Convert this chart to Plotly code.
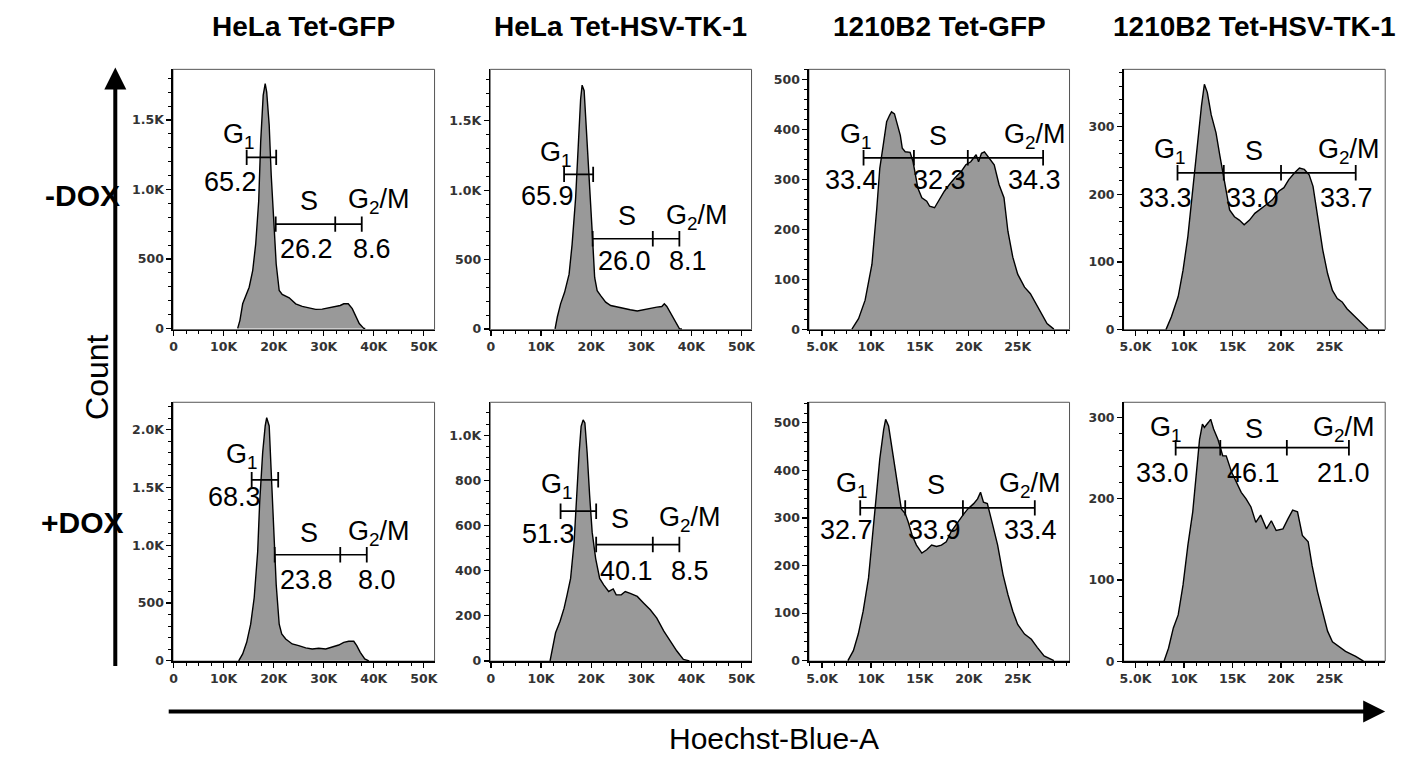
import plotly.graph_objects as go

W, H = 1423, 762

# ---------------- DATA ----------------
col_titles = ["HeLa Tet-GFP", "HeLa Tet-HSV-TK-1", "1210B2 Tet-GFP", "1210B2 Tet-HSV-TK-1"]
row_titles = ["-DOX", "+DOX"]
x_title = "Hoechst-Blue-A"
y_title = "Count"
phase_names = ["G<sub>1</sub>", "S", "G<sub>2</sub>/M"]

# Hoechst intensity in thousands (K), counts per channel
hela_gfp_nodox_x = [12.8, 13.25, 13.8, 14.4, 15.1, 15.8, 16.4, 17.0, 17.4, 17.9, 18.3, 18.6, 19.1, 19.5, 20.1, 20.5,
                    21.1, 21.7, 23.1, 24.4, 25.7, 27.0, 28.4, 29.7, 31.0, 32.3, 33.3, 34.0, 34.9, 35.7, 36.3, 37.1, 38.0, 38.3]
hela_gfp_nodox_y = [0, 58, 177, 237, 296, 415, 606, 915, 1344, 1677, 1761, 1701, 1463, 1106, 749, 463,
                    273, 244, 220, 177, 158, 149, 137, 139, 149, 154, 165, 177, 177, 142, 94, 35, 0, 0]

hela_tk_nodox_x = [12.8, 13.25, 13.9, 14.7, 15.6, 16.2, 16.9, 17.4, 17.9, 18.2, 18.6, 19.0, 19.5, 20.2, 20.7, 21.2,
                   21.9, 22.9, 23.9, 25.2, 26.5, 27.8, 29.2, 30.5, 31.8, 33.1, 34.1, 34.6, 35.1, 35.9, 36.8, 37.6, 38.1]
hela_tk_nodox_y = [0, 86, 181, 264, 395, 610, 943, 1348, 1657, 1757, 1717, 1467, 1110, 705, 371, 276,
                   240, 193, 169, 157, 145, 138, 129, 138, 152, 157, 162, 181, 162, 110, 50, 2, 0]

b2_gfp_nodox_x = [8.05, 8.73, 9.4, 10.1, 10.6, 10.9, 11.3, 11.6, 11.9, 12.1, 12.4, 12.6, 13.0, 13.2, 13.5, 14.0,
                  14.3, 14.8, 15.2, 15.7, 16.0, 16.5, 17.0, 17.5, 18.0, 18.55, 19.2, 19.7, 20.2, 20.75, 21.0,
                  21.3, 21.6, 22.1, 22.6, 23.1, 23.6, 24.0, 24.5, 25.0, 25.7, 26.3, 26.85, 27.4, 28.0, 28.7]
b2_gfp_nodox_y = [0, 21, 58, 130, 243, 322, 375, 415, 428, 435, 431, 418, 388, 362, 355, 354,
                  335, 282, 263, 256, 246, 243, 259, 276, 289, 302, 315, 329, 335, 349, 335,
                  352, 355, 342, 329, 289, 263, 196, 144, 110, 84, 71, 51, 31, 11, 0]

b2_tk_nodox_x = [8.14, 8.7, 9.4, 9.9, 10.4, 10.9, 11.35, 11.8, 12.1, 12.4, 12.8, 13.3, 13.7, 14.0, 14.4, 14.7,
                 15.2, 15.7, 16.2, 16.75, 17.3, 17.8, 18.5, 19.1, 19.8, 20.3, 20.8, 21.4, 21.9, 22.4, 22.9,
                 23.3, 23.75, 24.3, 24.8, 25.3, 25.8, 26.3, 26.8, 27.5, 28.2, 29.0]
b2_tk_nodox_y = [0, 19, 49, 88, 138, 207, 271, 331, 363, 351, 318, 291, 257, 232, 202, 177,
                 167, 162, 155, 162, 172, 177, 185, 192, 205, 210, 222, 232, 239, 237, 229,
                 212, 167, 118, 83, 58, 46, 41, 31, 21, 11, 0]

hela_gfp_dox_x = [13.0, 13.8, 14.6, 15.4, 16.1, 16.8, 17.2, 17.8, 18.3, 18.6, 19.1, 19.5, 20.1, 20.5, 21.1, 21.6,
                  22.4, 23.7, 25.0, 26.4, 27.7, 29.0, 30.4, 31.7, 33.0, 34.0, 35.0, 36.0, 36.6, 37.3, 38.2, 39.0]
hela_gfp_dox_y = [0, 60, 160, 317, 546, 946, 1375, 1804, 2033, 2104, 2033, 1632, 1089, 660, 317, 232,
                  189, 146, 132, 112, 103, 109, 103, 117, 137, 160, 169, 169, 132, 74, 17, 0]

hela_tk_dox_x = [11.8, 12.3, 12.9, 13.8, 14.6, 15.2, 15.9, 16.6, 17.1, 17.6, 18.0, 18.4, 18.75, 19.2, 19.7, 20.2,
                 20.9, 21.7, 22.5, 23.5, 24.4, 25.0, 26.0, 26.8, 27.8, 29.2, 30.5, 31.8, 33.1, 34.5, 35.8, 37.1, 38.4, 39.6]
hela_tk_dox_y = [0, 59, 125, 176, 234, 293, 366, 527, 733, 923, 1040, 1069, 1055, 923, 733, 571,
                 454, 366, 337, 308, 319, 293, 293, 308, 300, 286, 256, 227, 190, 132, 88, 44, 7, 0]

b2_gfp_dox_x = [7.64, 8.2, 8.7, 9.2, 9.75, 10.25, 10.6, 10.9, 11.3, 11.5, 11.8, 12.1, 12.45, 12.8, 13.1, 13.5,
                13.8, 14.2, 14.65, 15.2, 15.7, 16.2, 16.7, 17.2, 17.7, 18.2, 18.9, 19.4, 19.9, 20.5, 20.9,
                21.2, 21.5, 21.9, 22.45, 22.95, 23.5, 24.0, 24.5, 25.0, 25.7, 26.4, 27.0, 27.7, 28.7]
b2_gfp_dox_y = [0, 21, 56, 104, 174, 278, 347, 424, 486, 507, 493, 451, 403, 354, 319, 309,
                292, 264, 243, 226, 233, 243, 240, 243, 250, 271, 292, 306, 319, 330, 340,
                354, 333, 330, 285, 243, 181, 139, 104, 76, 56, 45, 28, 10, 0]

b2_tk_dox_x = [7.94, 8.4, 8.9, 9.4, 9.9, 10.4, 10.9, 11.3, 11.6, 11.9, 12.1, 12.5, 12.75, 13.05, 13.5, 14.0,
               14.35, 14.9, 15.4, 15.9, 16.4, 16.9, 17.4, 17.9, 18.5, 19.0, 19.5, 20.2, 20.7, 21.2, 21.7,
               22.2, 22.8, 23.2, 23.75, 24.3, 24.8, 25.3, 26.0, 26.65, 27.7, 28.5]
b2_tk_dox_y = [0, 16, 41, 57, 94, 143, 184, 237, 273, 292, 288, 294, 298, 286, 273, 253,
               253, 233, 220, 208, 200, 190, 171, 180, 163, 173, 161, 163, 175, 186, 184,
               155, 147, 118, 86, 61, 37, 24, 18, 12, 6, 0]

# gate boundaries (K) and gate levels (count) ; percentages G1, S, G2/M
hela_gfp_nodox_g1 = [14.6, 20.5]
hela_gfp_nodox_sg2 = [20.4, 32.3, 37.6]
hela_gfp_nodox_levels = [1231, 750]
hela_gfp_nodox_pct = ["65.2", "26.2", "8.6"]

hela_tk_nodox_g1 = [14.6, 20.4]
hela_tk_nodox_sg2 = [20.3, 32.3, 37.6]
hela_tk_nodox_levels = [1114, 650]
hela_tk_nodox_pct = ["65.9", "26.0", "8.1"]

hela_gfp_dox_g1 = [15.6, 20.9]
hela_gfp_dox_sg2 = [20.2, 33.3, 38.6]
hela_gfp_dox_levels = [1567, 918]
hela_gfp_dox_pct = ["68.3", "23.8", "8.0"]

hela_tk_dox_g1 = [13.9, 21.0]
hela_tk_dox_sg2 = [21.0, 32.3, 37.6]
hela_tk_dox_levels = [664, 516]
hela_tk_dox_pct = ["51.3", "40.1", "8.5"]

b2_gfp_nodox_gates = [9.24, 14.39, 19.9, 27.6]
b2_gfp_nodox_level = 343
b2_gfp_nodox_pct = ["33.4", "32.3", "34.3"]

b2_tk_nodox_gates = [9.33, 14.1, 20.0, 27.7]
b2_tk_nodox_level = 232
b2_tk_nodox_pct = ["33.3", "33.0", "33.7"]

b2_gfp_dox_gates = [8.9, 13.5, 19.4, 26.75]
b2_gfp_dox_level = 321
b2_gfp_dox_pct = ["32.7", "33.9", "33.4"]

b2_tk_dox_gates = [9.14, 13.74, 20.6, 27.0]
b2_tk_dox_level = 263
b2_tk_dox_pct = ["33.0", "46.1", "21.0"]

hela_x_ticks = [0, 10, 20, 30, 40, 50]
hela_x_labels = ["0", "10K", "20K", "30K", "40K", "50K"]
b2_x_ticks = [5, 10, 15, 20, 25]
b2_x_labels = ["5.0K", "10K", "15K", "20K", "25K"]

# ---------------- LAYOUT / STYLE ----------------
FONT = "Liberation Sans, Arial, Helvetica, sans-serif"
TICKFONT = dict(family="DejaVu Sans, Verdana, sans-serif", size=12.5, color="#333333", weight="bold")
FILL = "#999999"

col_px = [(170, 433.3), (489.3, 752.3), (810, 1072.3), (1126.7, 1390)]
row_px = [(70, 332.7), (406, 667.3)]

panels = [
    dict(r=0, c=0, x=hela_gfp_nodox_x, y=hela_gfp_nodox_y, xr=[-0.14, 52.15], yr=[-9, 1864],
         yt=[0, 500, 1000, 1500], yl=["0", "500", "1.0K", "1.5K"], ym=100, kind="hela",
         g1=hela_gfp_nodox_g1, sg2=hela_gfp_nodox_sg2, lv=hela_gfp_nodox_levels, pct=hela_gfp_nodox_pct,
         lab=[(13.1, 1388), (27.0, 918), (40.95, 917)], num=[(11.45, 1057), (26.6, 573), (39.6, 573)]),
    dict(r=0, c=1, x=hela_tk_nodox_x, y=hela_tk_nodox_y, xr=[-0.14, 52.0], yr=[-5, 1871],
         yt=[0, 500, 1000, 1500], yl=["0", "500", "1.0K", "1.5K"], ym=100, kind="hela",
         g1=hela_tk_nodox_g1, sg2=hela_tk_nodox_sg2, lv=hela_tk_nodox_levels, pct=hela_tk_nodox_pct,
         lab=[(12.9, 1264), (27.2, 812), (41.2, 807)], num=[(11.2, 955), (26.7, 490), (39.4, 490)]),
    dict(r=0, c=2, x=b2_gfp_nodox_x, y=b2_gfp_nodox_y, xr=[3.65, 30.3], yr=[-1, 520],
         yt=[0, 100, 200, 300, 400, 500], yl=["0", "100", "200", "300", "400", "500"], ym=20, kind="b2",
         gates=b2_gfp_nodox_gates, lv=b2_gfp_nodox_level, pct=b2_gfp_nodox_pct,
         lab=[(8.47, 387), (16.9, 387), (26.8, 387)], num=[(8.0, 299), (17.0, 299), (26.7, 299)]),
    dict(r=0, c=3, x=b2_tk_nodox_x, y=b2_tk_nodox_y, xr=[3.77, 30.74], yr=[0, 385],
         yt=[0, 100, 200, 300], yl=["0", "100", "200", "300"], ym=20, kind="b2",
         gates=b2_tk_nodox_gates, lv=b2_tk_nodox_level, pct=b2_tk_nodox_pct,
         lab=[(8.55, 264), (17.2, 264), (27.0, 264)], num=[(8.1, 195), (17.1, 195), (26.7, 195)]),
    dict(r=1, c=0, x=hela_gfp_dox_x, y=hela_gfp_dox_y, xr=[-0.14, 52.15], yr=[-3, 2238],
         yt=[0, 500, 1000, 1500, 2000], yl=["0", "500", "1.0K", "1.5K", "2.0K"], ym=100, kind="hela",
         g1=hela_gfp_dox_g1, sg2=hela_gfp_dox_sg2, lv=hela_gfp_dox_levels, pct=hela_gfp_dox_pct,
         lab=[(13.6, 1775), (27.1, 1104), (41.0, 1104)], num=[(12.2, 1418), (26.6, 703), (40.6, 703)]),
    dict(r=1, c=1, x=hela_tk_dox_x, y=hela_tk_dox_y, xr=[-0.14, 52.0], yr=[-1, 1147],
         yt=[0, 200, 400, 600, 800, 1000], yl=["0", "200", "400", "600", "800", "1.0K"], ym=50, kind="hela",
         g1=hela_tk_dox_g1, sg2=hela_tk_dox_sg2, lv=hela_tk_dox_levels, pct=hela_tk_dox_pct,
         lab=[(13.1, 777), (25.8, 630), (39.8, 630)], num=[(11.5, 561), (27.0, 399), (39.7, 399)]),
    dict(r=1, c=2, x=b2_gfp_dox_x, y=b2_gfp_dox_y, xr=[3.65, 30.3], yr=[-1, 543],
         yt=[0, 100, 200, 300, 400, 500], yl=["0", "100", "200", "300", "400", "500"], ym=20, kind="b2",
         gates=b2_gfp_dox_gates, lv=b2_gfp_dox_level, pct=b2_gfp_dox_pct,
         lab=[(8.05, 370), (16.6, 370), (26.3, 370)], num=[(7.5, 274), (16.5, 274), (26.3, 274)]),
    dict(r=1, c=3, x=b2_tk_dox_x, y=b2_tk_dox_y, xr=[3.77, 30.74], yr=[0, 319],
         yt=[0, 100, 200, 300], yl=["0", "100", "200", "300"], ym=20, kind="b2",
         gates=b2_tk_dox_gates, lv=b2_tk_dox_level, pct=b2_tk_dox_pct,
         lab=[(8.1, 286), (17.2, 286), (26.5, 286)], num=[(7.8, 232), (17.2, 232), (26.4, 232)]),
]

fig = go.Figure()
annotations = []
shapes = []

gate_marker = dict(symbol="line-ns", size=11, line=dict(width=1.8, color="black"), color="black")

for i, p in enumerate(panels, start=1):
    xa = "x" if i == 1 else f"x{i}"
    ya = "y" if i == 1 else f"y{i}"
    xk = "xaxis" if i == 1 else f"xaxis{i}"
    yk = "yaxis" if i == 1 else f"yaxis{i}"
    x0p, x1p = col_px[p["c"]]
    y0p, y1p = row_px[p["r"]]

    fig.add_trace(go.Scatter(x=p["x"], y=p["y"], mode="lines", fill="tozeroy", fillcolor=FILL,
                             line=dict(color="black", width=1.4), xaxis=xa, yaxis=ya,
                             hoverinfo="skip", showlegend=False))
    if p["kind"] == "hela":
        fig.add_trace(go.Scatter(x=p["g1"], y=[p["lv"][0]] * len(p["g1"]), mode="lines+markers",
                                 line=dict(color="black", width=1.7), marker=gate_marker,
                                 xaxis=xa, yaxis=ya, showlegend=False, hoverinfo="skip"))
        fig.add_trace(go.Scatter(x=p["sg2"], y=[p["lv"][1]] * len(p["sg2"]), mode="lines+markers",
                                 line=dict(color="black", width=1.7), marker=gate_marker,
                                 xaxis=xa, yaxis=ya, showlegend=False, hoverinfo="skip"))
        xt, xl, xminor = hela_x_ticks, hela_x_labels, 2.5
    else:
        fig.add_trace(go.Scatter(x=p["gates"], y=[p["lv"]] * len(p["gates"]), mode="lines+markers",
                                 line=dict(color="black", width=1.7), marker=gate_marker,
                                 xaxis=xa, yaxis=ya, showlegend=False, hoverinfo="skip"))
        xt, xl, xminor = b2_x_ticks, b2_x_labels, 1.25

    fig.layout[xk] = dict(domain=[x0p / W, x1p / W], anchor=ya, range=p["xr"], showgrid=False, zeroline=False,
                          showline=True, linecolor="black", linewidth=1.5, ticks="outside", ticklen=5,
                          tickwidth=1.2, tickcolor="black", tickvals=xt, ticktext=xl, tickfont=TICKFONT,
                          minor=dict(ticks="outside", ticklen=3, tickwidth=1, tickcolor="black",
                                     dtick=xminor, tick0=0, showgrid=False),
                          fixedrange=True)
    fig.layout[yk] = dict(domain=[1 - y1p / H, 1 - y0p / H], anchor=xa, range=p["yr"], showgrid=False,
                          zeroline=False, showline=True, linecolor="black", linewidth=1.5, ticks="outside",
                          ticklen=5, tickwidth=1.2, tickcolor="black", tickvals=p["yt"], ticktext=p["yl"],
                          tickfont=TICKFONT,
                          minor=dict(ticks="outside", ticklen=3, tickwidth=1, tickcolor="black",
                                     dtick=p["ym"], tick0=0, showgrid=False),
                          fixedrange=True)
    shapes.append(dict(type="rect", xref=f"{xa} domain", yref=f"{ya} domain", x0=0, x1=1, y0=0, y1=1,
                       line=dict(color="#555555", width=1), layer="below"))

    for (lx, ly), name in zip(p["lab"], phase_names):
        annotations.append(dict(x=lx, y=ly, xref=xa, yref=ya, text=name, showarrow=False,
                                font=dict(family=FONT, size=27, color="black"), xanchor="center", yanchor="middle"))
    for (nx, ny), val in zip(p["num"], p["pct"]):
        annotations.append(dict(x=nx, y=ny, xref=xa, yref=ya, text=val, showarrow=False,
                                font=dict(family=FONT, size=27, color="black"), xanchor="center", yanchor="middle"))

# column titles
for c, t in enumerate(col_titles):
    cx = (col_px[c][0] + col_px[c][1]) / 2 / W
    annotations.append(dict(x=cx, y=1 - 27 / H, xref="paper", yref="paper", text=f"<b>{t}</b>", showarrow=False,
                            font=dict(family=FONT, size=28, color="black"), xanchor="center", yanchor="middle"))
# row titles
for r, (t, cy) in enumerate(zip(row_titles, [197, 527])):
    annotations.append(dict(x=79 / W, y=1 - cy / H, xref="paper", yref="paper", text=f"<b>{t}</b>",
                            showarrow=False, font=dict(family=FONT, size=30, color="black"),
                            xanchor="center", yanchor="middle"))
# axis titles
annotations.append(dict(x=93 / W, y=1 - 380 / H, xref="paper", yref="paper", text=y_title, textangle=-90,
                        showarrow=False, font=dict(family=FONT, size=32, color="black"),
                        xanchor="center", yanchor="middle"))
annotations.append(dict(x=775 / W, y=1 - 745 / H, xref="paper", yref="paper", text=x_title,
                        showarrow=False, font=dict(family=FONT, size=30, color="black"),
                        xanchor="center", yanchor="middle"))
# arrows
annotations.append(dict(x=112 / W, y=1 - 68 / H, xref="paper", yref="paper", text="", showarrow=True,
                        ax=0, ay=600, arrowhead=2, arrowsize=1.1, arrowwidth=4, arrowcolor="black"))
annotations.append(dict(x=1390 / W, y=1 - 718 / H, xref="paper", yref="paper", text="", showarrow=True,
                        ax=-1218, ay=0, arrowhead=2, arrowsize=1.1, arrowwidth=4, arrowcolor="black"))

fig.update_layout(width=W, height=H, margin=dict(l=0, r=0, t=0, b=0), paper_bgcolor="white",
                  plot_bgcolor="white", showlegend=False, annotations=annotations, shapes=shapes,
                  font=dict(family=FONT))

fig.write_html("out.html", config={"displayModeBar": False, "staticPlot": True},
               post_script="document.body.style.margin='0px';document.body.style.overflow='hidden';")
